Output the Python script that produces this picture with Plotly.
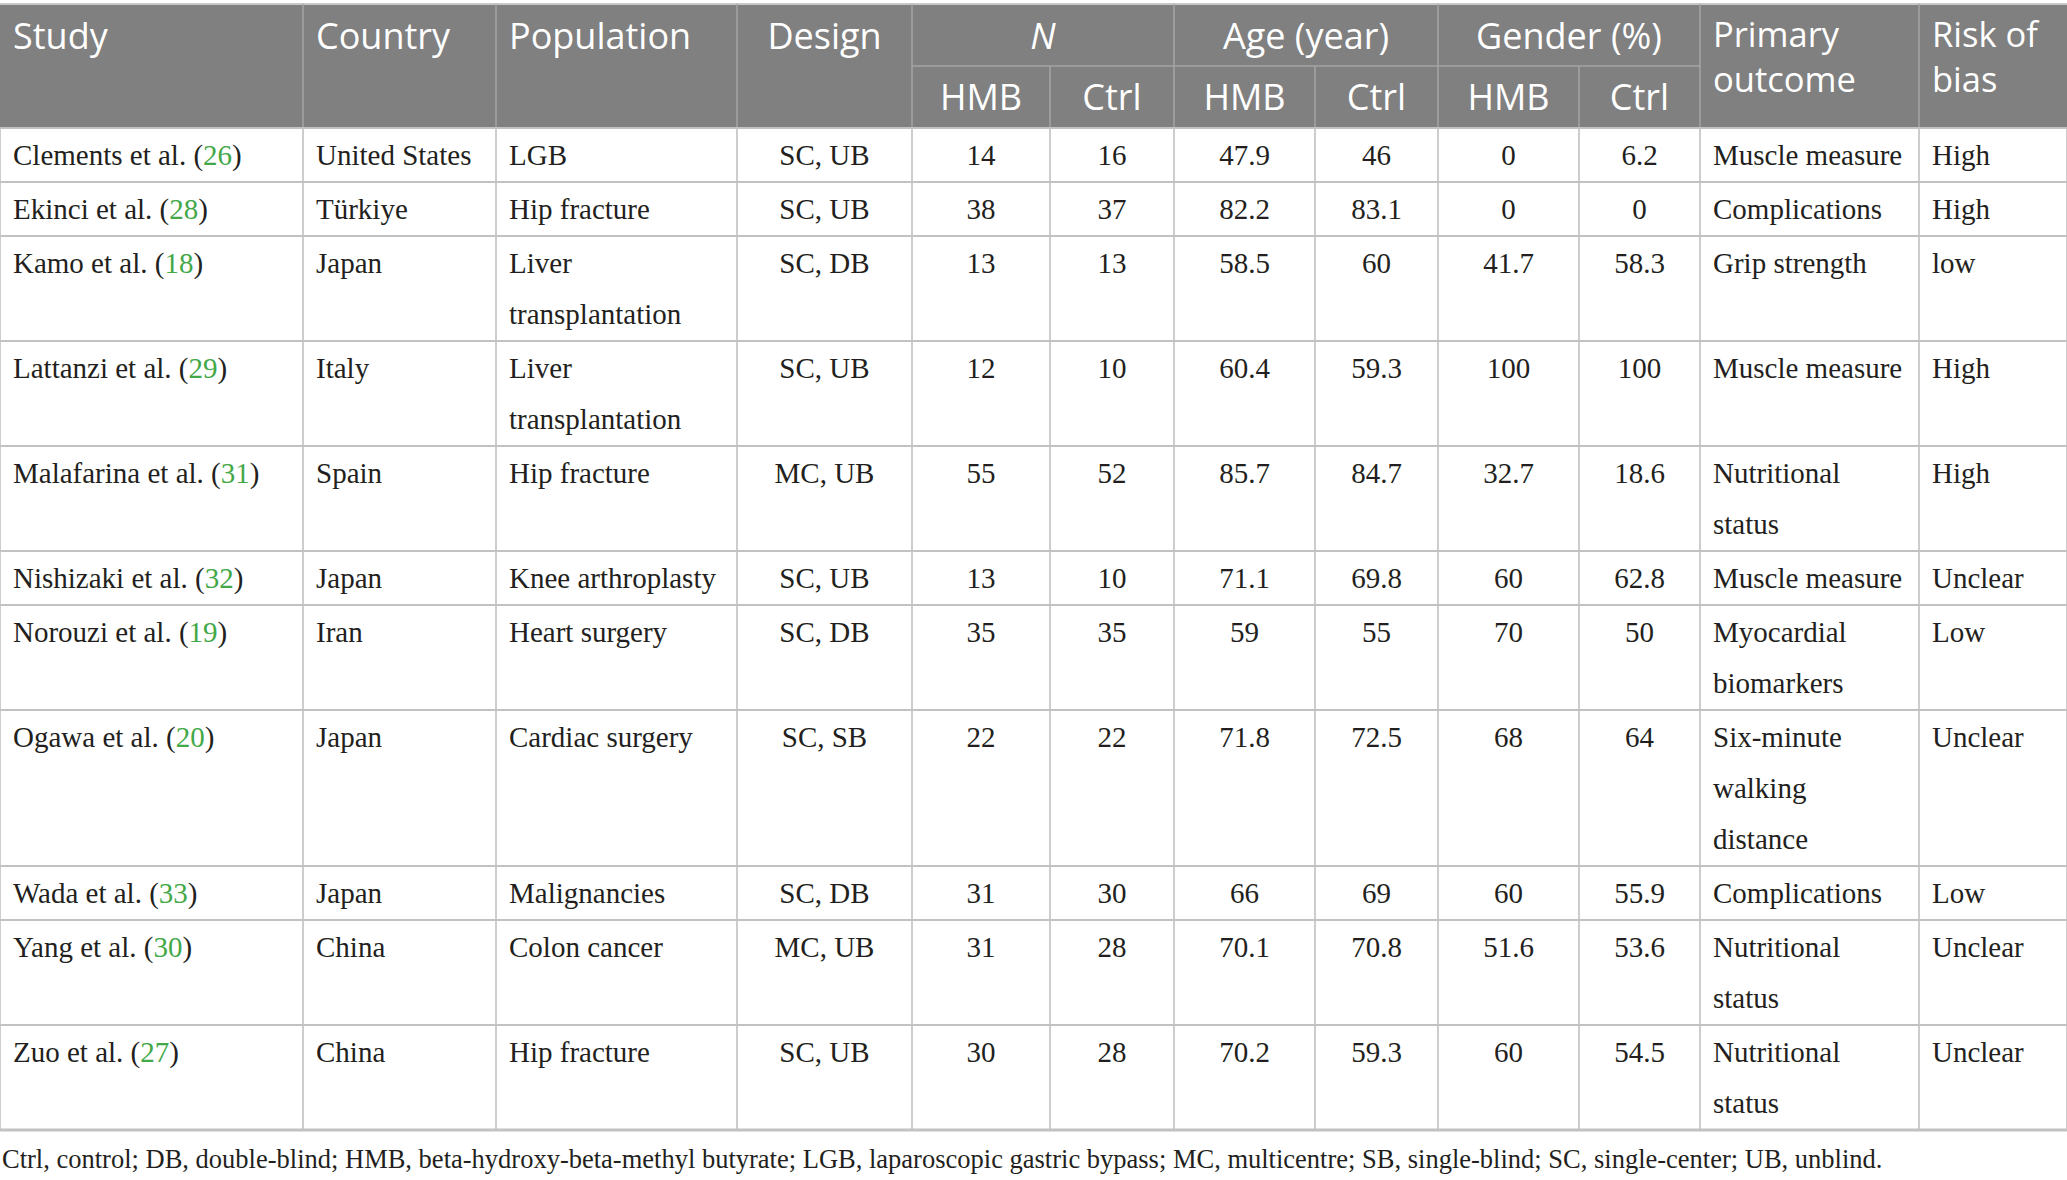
import plotly.graph_objects as go

# table data
studies = ["Clements et al.", "Ekinci et al.", "Kamo et al.", "Lattanzi et al.", "Malafarina et al.",
           "Nishizaki et al.", "Norouzi et al.", "Ogawa et al.", "Wada et al.", "Yang et al.", "Zuo et al."]
refs = [26, 28, 18, 29, 31, 32, 19, 20, 33, 30, 27]
countries = ["United States", "Türkiye", "Japan", "Italy", "Spain", "Japan", "Iran", "Japan",
             "Japan", "China", "China"]
populations = ["LGB", "Hip fracture", "Liver\ntransplantation", "Liver\ntransplantation", "Hip fracture",
               "Knee arthroplasty", "Heart surgery", "Cardiac surgery", "Malignancies", "Colon cancer",
               "Hip fracture"]
designs = ["SC, UB", "SC, UB", "SC, DB", "SC, UB", "MC, UB", "SC, UB", "SC, DB", "SC, SB", "SC, DB",
           "MC, UB", "SC, UB"]
n_hmb = [14, 38, 13, 12, 55, 13, 35, 22, 31, 31, 30]
n_ctrl = [16, 37, 13, 10, 52, 10, 35, 22, 30, 28, 28]
age_hmb = [47.9, 82.2, 58.5, 60.4, 85.7, 71.1, 59, 71.8, 66, 70.1, 70.2]
age_ctrl = [46, 83.1, 60, 59.3, 84.7, 69.8, 55, 72.5, 69, 70.8, 59.3]
gender_hmb = [0, 0, 41.7, 100, 32.7, 60, 70, 68, 60, 51.6, 60]
gender_ctrl = [6.2, 0, 58.3, 100, 18.6, 62.8, 50, 64, 55.9, 53.6, 54.5]
outcomes = ["Muscle measure", "Complications", "Grip strength", "Muscle measure", "Nutritional\nstatus",
            "Muscle measure", "Myocardial\nbiomarkers", "Six-minute\nwalking\ndistance", "Complications",
            "Nutritional\nstatus", "Nutritional\nstatus"]
risk = ["High", "High", "low", "High", "High", "Unclear", "Low", "Unclear", "Low", "Unclear", "Unclear"]

header_top = ["Study", "Country", "Population", "Design", "<i>N</i>", "Age (year)", "Gender (%)",
              "Primary\noutcome", "Risk of\nbias"]
header_sub = ["HMB", "Ctrl"]
footnote = ("Ctrl, control; DB, double-blind; HMB, beta-hydroxy-beta-methyl butyrate; LGB, laparoscopic "
            "gastric bypass; MC, multicentre; SB, single-blind; SC, single-center; UB, unblind.")

# layout
W, H = 2067, 1180
edges = [0, 303, 496, 737, 912, 1050, 1174, 1315, 1438, 1579, 1700, 1919, 2067]
spans = [1, 1, 1, 1, 2, 2, 2, 1, 1]
top_align = ["l", "l", "l", "c", "c", "c", "c", "l", "l"]
body_align = ["l", "l", "l", "c", "c", "c", "c", "c", "c", "c", "l", "l"]
head_y0, head_mid, head_y1 = 4, 66, 128
line_gap = 51
pad = 13
green = "#43a848"
grey = "#7f807f"
ink = "#231f20"

fmt = lambda v: "{:g}".format(v)
body_cols = [
    ["%s (<span style='color:%s'>%d</span>)" % (s, green, r) for s, r in zip(studies, refs)],
    countries, populations, designs,
    [fmt(v) for v in n_hmb], [fmt(v) for v in n_ctrl],
    [fmt(v) for v in age_hmb], [fmt(v) for v in age_ctrl],
    [fmt(v) for v in gender_hmb], [fmt(v) for v in gender_ctrl],
    outcomes, risk,
]

pts = {"l": ([], [], [], []), "c": ([], [], [], [])}


def put(align, x0, x1, y, text, size):
    xs, ys, ts, ss = pts[align]
    xs.append(x0 + pad if align == "l" else (x0 + x1) / 2)
    ys.append(y)
    ts.append(text)
    ss.append(size)


# body cells
row_tops = [head_y1]
for i in range(len(studies)):
    cells = [col[i].split("\n") for col in body_cols]
    nlines = max(len(c) for c in cells)
    top = row_tops[-1]
    for j, lines in enumerate(cells):
        for k, ln in enumerate(lines):
            put(body_align[j], edges[j], edges[j + 1], top + 29.5 + line_gap * k, ln, 29)
    row_tops.append(top + 54 + line_gap * (nlines - 1))

body_pts = {a: v for a, v in pts.items()}
pts = {"l": ([], [], [], []), "c": ([], [], [], [])}

# header cells
c = 0
group_edges = [0]
sub_edges = []
for lab, sp, al in zip(header_top, spans, top_align):
    if "\n" in lab:
        put(al, edges[c], edges[c + sp], 61, lab.replace("\n", "<br>"), 34.5)
    else:
        put(al, edges[c], edges[c + sp], 40, lab, 36)
    if sp == 2:
        for s in range(2):
            put("c", edges[c + s], edges[c + s + 1], 101, header_sub[s], 36)
        sub_edges.append(c + 1)
    c += sp
    group_edges.append(c)

fig = go.Figure()
for a, (xs, ys, ts, ss) in body_pts.items():
    fig.add_trace(go.Scatter(x=xs, y=ys, text=ts, mode="text",
                             textposition="middle right" if a == "l" else "middle center",
                             textfont=dict(family="Liberation Serif", size=ss, color=ink),
                             hoverinfo="skip"))
for a, (xs, ys, ts, ss) in pts.items():
    fig.add_trace(go.Scatter(x=xs, y=ys, text=ts, mode="text",
                             textposition="middle right" if a == "l" else "middle center",
                             textfont=dict(family="Open Sans", size=ss, color="white"),
                             hoverinfo="skip"))

shapes = [dict(type="rect", x0=0, x1=W, y0=head_y0, y1=head_y1, fillcolor=grey, line_width=0, layer="below"),
          dict(type="line", x0=0, x1=W, y0=head_y0, y1=head_y0, line=dict(color="#c8c8c8", width=2))]
for g in group_edges[1:-1]:
    shapes.append(dict(type="line", x0=edges[g], x1=edges[g], y0=head_y0, y1=head_y1,
                       line=dict(color="#a4a4a4", width=1.5)))
for s in sub_edges:
    shapes.append(dict(type="line", x0=edges[s], x1=edges[s], y0=head_mid, y1=head_y1,
                       line=dict(color="#a4a4a4", width=1.5)))
shapes.append(dict(type="line", x0=edges[4], x1=edges[10], y0=head_mid, y1=head_mid,
                   line=dict(color="#a4a4a4", width=1.5)))
for e in edges:
    shapes.append(dict(type="line", x0=e, x1=e, y0=head_y1, y1=row_tops[-1],
                       line=dict(color="#bdbdbd", width=1.5)))
for k, y in enumerate(row_tops):
    shapes.append(dict(type="line", x0=0, x1=W, y0=y, y1=y,
                       line=dict(color="#c2c2c2", width=3 if k == len(row_tops) - 1 else 2)))

fig.update_layout(
    width=W, height=H,
    margin=dict(l=0, r=0, t=0, b=0),
    paper_bgcolor="white", plot_bgcolor="white",
    showlegend=False, hovermode=False,
    xaxis=dict(range=[0, W], visible=False, fixedrange=True),
    yaxis=dict(range=[H, 0], visible=False, fixedrange=True),
    shapes=shapes,
    annotations=[dict(x=0, y=1159, xref="x", yref="y", xanchor="left", yanchor="middle", showarrow=False,
                      text=footnote, font=dict(family="Liberation Serif", size=26.5, color=ink))],
)

fig.write_html("out.html", config={"displayModeBar": False},
               post_script="document.body.style.margin='0';")
